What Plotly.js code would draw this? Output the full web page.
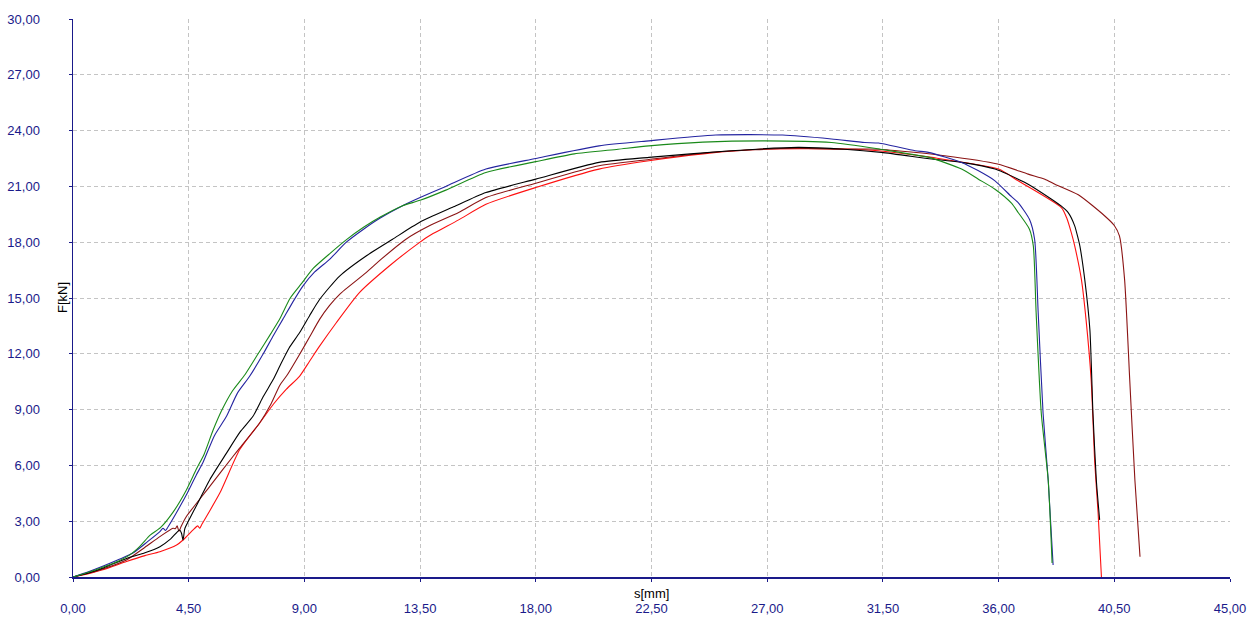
<!DOCTYPE html>
<html>
<head>
<meta charset="utf-8">
<script src="https://cdn.plot.ly/plotly-3.0.1.min.js"></script>
<style>
html,body{margin:0;padding:0;background:#fff;}
#chart{width:1250px;height:619px;}
</style>
</head>
<body>
<div id="chart"></div>
<script>
// Series data (s in mm, F in kN)
const greenS = [0,0.6,1.2,1.8,2.21,2.6,3.0,3.4,3.9,4.4,4.8,5.1,5.45,5.8,6.2,6.7,7.2,7.7,8.05,8.45,8.9,9.35,10.0,10.65,11.3,11.95,12.8,13.5,14.5,16.06,18.0,19.5,21.2,22.4,24.5,26.9,29.5,31.4,32.5,33.3,34.56,35.2,35.86,36.5,36.76,37.2,37.35,37.46,37.66,37.93,38.08];
const greenF = [0,0.25,0.55,0.88,1.19,1.65,2.25,2.65,3.5,4.65,5.8,6.6,7.9,9.0,10.0,10.9,12.0,13.1,13.9,15.0,15.8,16.6,17.4,18.15,18.8,19.35,19.95,20.25,20.8,21.75,22.33,22.75,23.0,23.18,23.38,23.45,23.36,23.0,22.75,22.56,21.93,21.4,20.85,20.1,19.6,18.7,17.8,14.2,8.8,5.2,0.75];

const blueS = [0,0.6,1.2,1.8,2.33,2.9,3.38,3.5,3.6,3.7,4.0,4.41,4.8,5.05,5.5,5.97,6.4,6.87,7.4,7.8,8.16,8.6,8.94,9.4,9.98,10.63,11.3,11.95,12.8,13.5,14.5,16.06,18.0,20.46,22.4,25.0,27.6,29.5,30.8,31.33,32.75,33.27,34.56,35.2,35.86,36.5,36.76,37.2,37.4,37.54,37.73,37.93,38.12];
const blueF = [0,0.28,0.6,0.95,1.29,1.9,2.44,2.62,2.5,2.7,3.4,4.42,5.5,6.14,7.6,8.64,9.9,10.79,12.0,13.0,13.85,14.9,15.64,16.4,17.08,18.0,18.7,19.3,19.95,20.4,21.0,21.93,22.5,23.18,23.45,23.76,23.76,23.55,23.36,23.33,22.92,22.83,22.29,21.85,21.3,20.45,20.13,19.23,18.16,14.2,8.8,5.2,0.65];

const blackS = [0,0.6,1.2,2.08,2.8,3.38,3.8,4.15,4.22,4.28,4.35,4.48,4.9,5.32,5.97,6.5,7.0,7.4,7.78,8.04,8.4,8.81,9.2,9.59,10.37,11.4,12.43,13.47,14.8,16.06,18.0,20.46,22.4,25.6,28.2,30.0,31.44,33.4,34.56,35.86,36.76,37.15,38.06,38.43,38.7,38.96,39.1,39.16,39.35,39.55,39.67,39.8,39.93];
const blackF = [0,0.22,0.5,1.0,1.3,1.63,2.05,2.53,2.35,1.99,2.6,2.98,4.1,5.23,6.66,7.8,8.64,9.7,10.6,11.33,12.3,13.13,14.05,14.92,16.18,17.26,18.16,19.06,19.9,20.67,21.39,22.29,22.56,22.92,23.1,23.0,22.83,22.47,22.29,21.93,21.39,21.12,20.31,19.95,19.6,18.88,18.16,17.8,16.0,13.3,8.8,5.23,3.07];

const brownS = [0,0.6,1.2,2.08,2.8,3.38,3.89,3.98,4.05,4.12,4.2,4.41,5.32,6.22,6.48,7.26,7.7,8.04,8.35,8.81,9.2,9.59,9.98,10.37,11.4,12.0,12.95,13.86,15.0,16.06,18.0,20.46,22.4,25.0,28.0,30.0,31.33,33.9,35.96,37.15,37.8,38.19,39.1,40.13,40.5,40.7,40.9,41.1,41.3,41.5];
const brownF = [0,0.2,0.45,0.92,1.6,2.17,2.62,2.6,2.75,2.45,2.7,3.25,4.87,6.48,6.93,8.28,9.3,10.3,10.9,11.96,12.9,13.85,14.6,15.2,16.36,17.1,18.16,18.88,19.6,20.4,21.17,22.11,22.45,22.85,23.05,23.0,23.0,22.65,22.2,21.66,21.39,21.12,20.55,19.41,18.9,18.34,16.0,10.6,5.23,1.09];

const redS = [0,0.6,1.2,2.08,2.8,3.38,4.03,4.28,4.67,4.85,4.93,5.0,5.71,6.48,7.26,7.8,8.3,8.81,9.2,9.59,10.24,11.14,12.3,13.47,13.86,15.0,16.06,18.0,20.46,22.4,24.5,26.93,30.16,31.33,33.4,36.0,36.76,38.45,38.65,38.83,38.96,39.22,39.4,39.6,39.74,39.87,40.0];
const redF = [0,0.18,0.4,0.83,1.15,1.36,1.72,1.99,2.53,2.75,2.62,2.8,4.51,6.84,8.28,9.3,10.1,10.79,11.6,12.41,13.67,15.29,16.72,17.98,18.35,19.2,20.04,20.94,21.93,22.38,22.75,23.01,23.01,22.92,22.56,21.93,21.3,19.85,19.3,18.5,17.8,16.0,13.85,10.6,6.14,3.45,0];

const xTicks = [0,4.5,9,13.5,18,22.5,27,31.5,36,40.5,45];
const yTicks = [0,3,6,9,12,15,18,21,24,27,30];

const navy = '#1a1a8a';
const font = 'Liberation Sans, Arial, sans-serif';

function tr(x, y, color) {
  return {x: x, y: y, type: 'scatter', mode: 'lines',
          line: {color: color, width: 1.1, shape: 'spline', smoothing: 0.6},
          hoverinfo: 'skip', showlegend: false};
}

const data = [
  tr(redS, redF, '#ff1010'),
  tr(brownS, brownF, '#8b1414'),
  tr(blackS, blackF, '#000000'),
  tr(blueS, blueF, '#2424a0'),
  tr(greenS, greenF, '#1a8a1a')
];

const axisCommon = {
  showline: true, linecolor: navy, linewidth: 1.5,
  ticks: 'outside', ticklen: 3, tickcolor: navy, tickwidth: 1,
  showgrid: true, gridcolor: '#c4c4c4', griddash: '4px,3px', gridwidth: 1,
  zeroline: false, tickformat: '.2f',
  tickfont: {family: font, size: 13, color: navy},
  tickmode: 'array', fixedrange: true
};

const layout = {
  width: 1250, height: 619,
  margin: {l: 73, r: 20, t: 19, b: 42},
  paper_bgcolor: '#ffffff', plot_bgcolor: '#ffffff',
  separators: ',.',
  font: {family: font, size: 13, color: '#000'},
  xaxis: Object.assign({}, axisCommon, {range: [0, 45], tickvals: xTicks, ticklabelstandoff: 16}),
  yaxis: Object.assign({}, axisCommon, {range: [0, 30], tickvals: yTicks, ticklabelstandoff: 26}),
  annotations: [
    {text: 's[mm]', xref: 'paper', yref: 'paper', x: 0.5, y: 0, xanchor: 'center', yanchor: 'top',
     yshift: -7, showarrow: false, font: {family: font, size: 13, color: '#000'}},
    {text: 'F[kN]', xref: 'paper', yref: 'paper', x: 0, y: 0.5, xanchor: 'center', yanchor: 'middle',
     xshift: -11, textangle: -90, showarrow: false, font: {family: font, size: 13, color: '#000'}}
  ]
};

Plotly.newPlot('chart', data, layout, {displayModeBar: false, staticPlot: true});
</script>
</body>
</html>
